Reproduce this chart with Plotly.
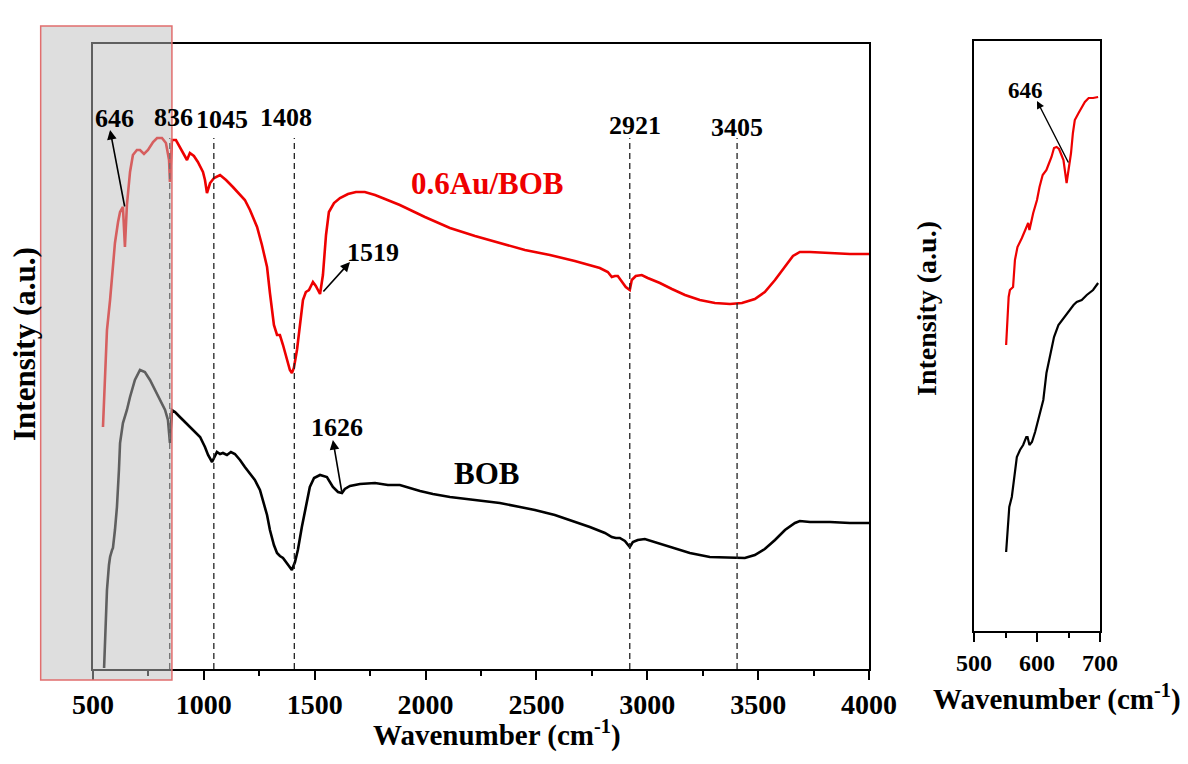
import plotly.graph_objects as go

W, H = 1188, 764

# ---------------- data ----------------
wn_au = [545, 554, 563, 577, 590, 599, 613, 622, 635, 644,
         653, 667, 680, 698, 712, 730, 748, 771, 789, 811,
         829, 843, 847, 856, 874, 892, 910, 924, 937, 955,
         973, 996, 1005, 1014, 1028, 1046, 1073, 1100, 1131, 1163,
         1185, 1208, 1240, 1262, 1285, 1298, 1316, 1330, 1343, 1357,
         1375, 1388, 1397, 1406, 1420, 1433, 1447, 1460, 1474, 1492,
         1505, 1524, 1537, 1551, 1564, 1587, 1614, 1650, 1686, 1726,
         1772, 1817, 1884, 1997, 2110, 2223, 2335, 2448, 2561, 2673,
         2786, 2822, 2840, 2854, 2867, 2885, 2903, 2921, 2930, 2948,
         2975, 3002, 3057, 3111, 3170, 3237, 3305, 3373, 3427, 3485,
         3530, 3576, 3621, 3657, 3688, 3734, 3824, 3914, 4000]
int_au = [242, 289, 339, 369, 404, 426, 447, 457, 462, 422,
          464, 497, 514, 519, 519, 515, 519, 527, 531, 531,
          526, 509, 487, 529, 529, 522, 514, 509, 516, 513,
          507, 497, 489, 476, 486, 491, 494, 489, 482, 474,
          469, 459, 442, 424, 402, 376, 344, 334, 334, 324,
          309, 299, 296, 301, 319, 344, 369, 377, 379, 387,
          383, 375, 394, 434, 457, 466, 471, 475, 477, 477,
          474, 470, 464, 452, 441, 433, 426, 419, 414, 408,
          401, 397, 392, 393, 393, 387, 382, 379, 389, 393,
          394, 391, 386, 380, 374, 369, 366, 365, 366, 370,
          377, 389, 403, 413, 417, 417, 416, 415, 415]

wn_bob = [550, 554, 563, 572, 577, 586, 590, 599, 608, 617,
          622, 635, 653, 667, 689, 712, 734, 757, 780, 802,
          825, 838, 847, 856, 870, 892, 915, 937, 960, 983,
          1005, 1019, 1037, 1050, 1059, 1073, 1086, 1104, 1122, 1140,
          1163, 1185, 1208, 1230, 1253, 1267, 1285, 1298, 1316, 1330,
          1343, 1357, 1370, 1384, 1397, 1411, 1424, 1442, 1460, 1478,
          1497, 1524, 1555, 1582, 1605, 1623, 1636, 1659, 1704, 1772,
          1830, 1884, 1975, 2033, 2110, 2223, 2335, 2426, 2493, 2583,
          2651, 2741, 2809, 2840, 2858, 2876, 2899, 2921, 2935, 2957,
          2989, 3034, 3102, 3192, 3282, 3373, 3440, 3485, 3530, 3576,
          3621, 3666, 3688, 3734, 3824, 3914, 4000]
int_bob = [1, 29, 79, 104, 112, 119, 121, 139, 162, 199,
           226, 246, 259, 272, 289, 299, 297, 289, 279, 269,
           259, 249, 226, 259, 257, 252, 247, 242, 237, 232,
           222, 214, 207, 214, 217, 215, 216, 214, 217, 215,
           209, 202, 195, 189, 179, 169, 154, 139, 124, 116,
           113, 111, 107, 103, 99, 107, 119, 142, 164, 182,
           191, 194, 192, 182, 177, 176, 180, 183, 185, 186,
           184, 184, 178, 175, 172, 169, 166, 162, 159, 154,
           149, 142, 136, 132, 131, 131, 128, 122, 127, 129,
           130, 127, 122, 116, 112, 111, 111, 114, 120, 129,
           139, 146, 148, 147, 147, 146, 146]

inset_wn_au = [551, 555, 557, 562, 565, 569, 576, 584, 586, 588,
               590, 594, 600, 604, 609, 615, 618, 623, 627, 631,
               635, 642, 647, 650, 654, 657, 660, 666, 671, 676,
               682, 689, 697]
inset_int_au = [286, 334, 341, 344, 371, 384, 393, 404, 408, 401,
                408, 418, 431, 444, 456, 461, 466, 474, 483, 484,
                482, 471, 448, 461, 478, 498, 511, 518, 524, 529,
                533, 533, 534]
inset_wn_bob = [551, 553, 556, 560, 564, 568, 573, 578, 583, 585,
                588, 592, 597, 602, 608, 610, 615, 621, 627, 634,
                642, 650, 658, 663, 671, 679, 689, 697]
inset_int_bob = [79, 98, 124, 134, 154, 174, 181, 186, 194, 194,
                 186, 189, 199, 211, 224, 231, 258, 278, 294, 306,
                 313, 319, 326, 329, 331, 336, 341, 348]

x_ticks = [500, 1000, 1500, 2000, 2500, 3000, 3500, 4000]
x_minor = [750, 1250, 1750, 2250, 2750, 3250, 3750]
inset_ticks = [500, 600, 700]
inset_minor = [550, 650]

peak_lines = [846, 1045, 1408, 2921, 3405]
# label text, x, y
peak_labels = ["646", "836", "1045", "1408", "2921", "3405"]
peak_label_x = [599, 865, 1082, 1370, 2945, 3405]
peak_label_y = [551, 552, 550, 552, 544, 542]

highlight_wn = [264, 856]      # grey box (wavenumber)
highlight_int = [-11, 643]     # grey box (intensity units)

RED = "#ee0000"
FONT = "Liberation Serif"

# ---------------- geometry ----------------
xd = [93 / W, 869 / W]
yd = [(H - 669) / H, (H - 44) / H]
xd2 = [974 / W, 1100 / W]
yd2 = [(H - 631) / H, (H - 41) / H]
XR = [500, 4000]
YR = [0, 625]


def xp(v):
    return xd[0] + (v - XR[0]) / (XR[1] - XR[0]) * (xd[1] - xd[0])


def yp(v):
    return yd[0] + (v - YR[0]) / (YR[1] - YR[0]) * (yd[1] - yd[0])


fig = go.Figure()
fig.add_trace(go.Scatter(x=wn_au, y=int_au, mode="lines",
                         line=dict(color=RED, width=2.6), xaxis="x", yaxis="y"))
fig.add_trace(go.Scatter(x=wn_bob, y=int_bob, mode="lines",
                         line=dict(color="black", width=2.6), xaxis="x", yaxis="y"))
fig.add_trace(go.Scatter(x=inset_wn_au, y=inset_int_au, mode="lines",
                         line=dict(color=RED, width=2.2), xaxis="x2", yaxis="y2"))
fig.add_trace(go.Scatter(x=inset_wn_bob, y=inset_int_bob, mode="lines",
                         line=dict(color="black", width=2.2), xaxis="x2", yaxis="y2"))

shapes = []
for v in peak_lines:
    shapes.append(dict(type="line", xref="x", yref="y", x0=v, x1=v, y0=0, y1=531,
                       line=dict(color="#222222", width=1.3, dash="6px,4px")))
shapes.append(dict(type="rect", xref="paper", yref="paper",
                   x0=xp(highlight_wn[0]), x1=xp(highlight_wn[1]),
                   y0=yp(highlight_int[0]), y1=yp(highlight_int[1]),
                   fillcolor="rgba(190,190,190,0.5)",
                   line=dict(color="rgba(225,110,110,1)", width=1.5), layer="above"))

C = dict(xanchor="center", yanchor="middle")
ann = []
for t, x, y in zip(peak_labels, peak_label_x, peak_label_y):
    ann.append(dict(x=x, y=y, xref="x", yref="y", text="<b>%s</b>" % t, showarrow=False,
                    font=dict(family=FONT, size=26, color="black"), **C))
ann.append(dict(x=1763, y=417, xref="x", yref="y", text="<b>1519</b>", showarrow=False,
                font=dict(family=FONT, size=26, color="black"), **C))
ann.append(dict(x=1601, y=242, xref="x", yref="y", text="<b>1626</b>", showarrow=False,
                font=dict(family=FONT, size=26, color="black"), **C))
ann.append(dict(x=2277, y=486, xref="x", yref="y", text="<b>0.6Au/BOB</b>", showarrow=False,
                font=dict(family=FONT, size=31, color=RED), **C))
ann.append(dict(x=2273, y=196, xref="x", yref="y", text="<b>BOB</b>", showarrow=False,
                font=dict(family=FONT, size=31, color="black"), **C))
# arrows (head at label side)
arrows = [(577, 539, 644, 461), (1659, 407, 1533, 376), (1582, 229, 1623, 176)]
for hx, hy, tx, ty in arrows:
    ann.append(dict(x=hx, y=hy, ax=tx, ay=ty, xref="x", yref="y", axref="x", ayref="y",
                    text="", showarrow=True, arrowhead=2, arrowsize=1.2, arrowwidth=1.6,
                    arrowcolor="black"))
# inset annotations
ann.append(dict(x=582, y=541, xref="x2", yref="y2", text="<b>646</b>", showarrow=False,
                font=dict(family=FONT, size=23, color="black"), **C))
ann.append(dict(x=600, y=530, ax=651, ay=467, xref="x2", yref="y2", axref="x2", ayref="y2",
                text="", showarrow=True, arrowhead=2, arrowsize=1.1, arrowwidth=1.4,
                arrowcolor="black"))
# axis titles
ann.append(dict(x=497 / W, y=(H - 733) / H, xref="paper", yref="paper",
                text="<b>Wavenumber (cm<sup>-1</sup>)</b>", showarrow=False,
                font=dict(family=FONT, size=29, color="black"), **C))
ann.append(dict(x=24 / W, y=(H - 344) / H, xref="paper", yref="paper", textangle=-90,
                text="<b>Intensity (a.u.)</b>", showarrow=False,
                font=dict(family=FONT, size=31, color="black"), **C))
ann.append(dict(x=1057 / W, y=(H - 697) / H, xref="paper", yref="paper",
                text="<b>Wavenumber (cm<sup>-1</sup>)</b>", showarrow=False,
                font=dict(family=FONT, size=29, color="black"), **C))
ann.append(dict(x=926 / W, y=(H - 308) / H, xref="paper", yref="paper", textangle=-90,
                text="<b>Intensity (a.u.)</b>", showarrow=False,
                font=dict(family=FONT, size=28, color="black"), **C))

axis_common = dict(showline=True, mirror=True, linewidth=2, linecolor="black",
                   showgrid=False, zeroline=False, automargin=False)

fig.update_layout(
    width=W, height=H, margin=dict(l=0, r=0, t=0, b=0, autoexpand=False),
    paper_bgcolor="white", plot_bgcolor="white", showlegend=False,
    xaxis=dict(domain=xd, range=XR, anchor="y", tickmode="array", tickvals=x_ticks,
               ticks="outside", ticklen=9, tickwidth=2, tickcolor="black",
               minor=dict(tickmode="array", tickvals=x_minor, ticks="outside",
                          ticklen=5, tickwidth=2, tickcolor="black"),
               tickfont=dict(family=FONT, size=28, color="black", weight="bold"),
               **axis_common),
    yaxis=dict(domain=yd, range=YR, anchor="x", showticklabels=False, ticks="",
               **axis_common),
    xaxis2=dict(domain=xd2, range=[500, 700], anchor="y2", tickmode="array",
                tickvals=inset_ticks, ticks="outside", ticklen=9, tickwidth=2,
                tickcolor="black",
                minor=dict(tickmode="array", tickvals=inset_minor, ticks="outside",
                           ticklen=5, tickwidth=2, tickcolor="black"),
                tickfont=dict(family=FONT, size=24, color="black", weight="bold"),
                **axis_common),
    yaxis2=dict(domain=yd2, range=[0, 590], anchor="x2", showticklabels=False, ticks="",
                **axis_common),
    shapes=shapes, annotations=ann,
)

fig.write_html("out.html")
